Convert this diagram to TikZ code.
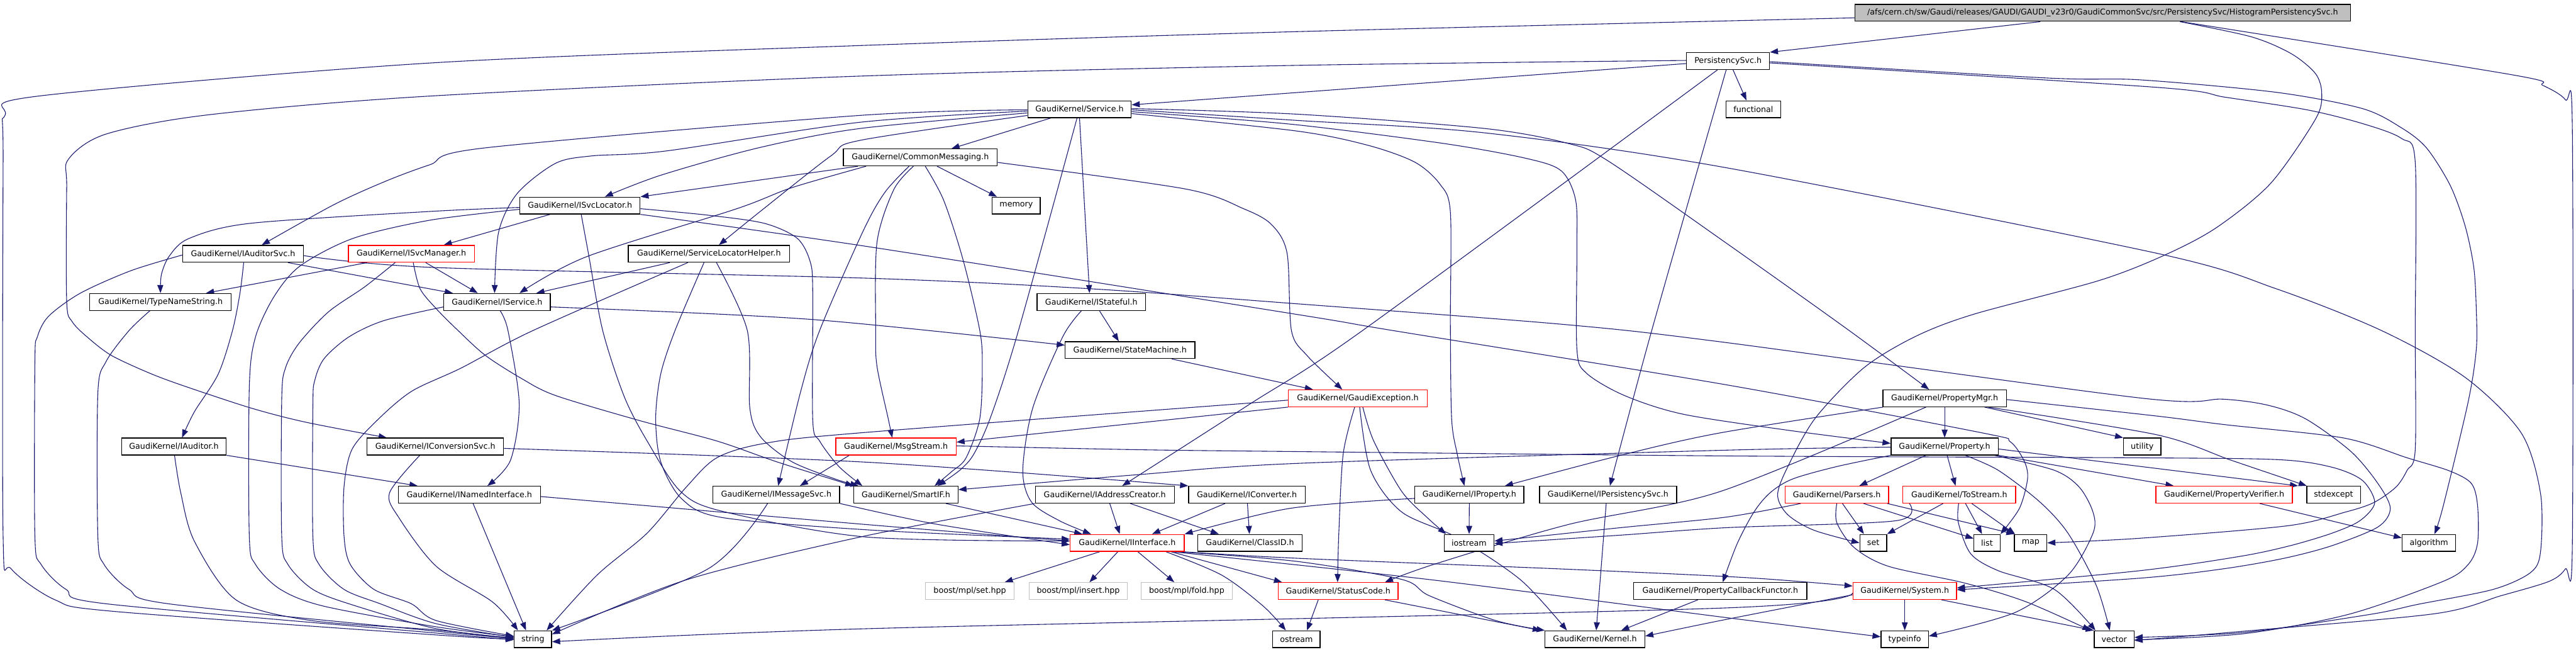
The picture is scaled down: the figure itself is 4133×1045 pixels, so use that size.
\documentclass[tikz,border=0pt]{standalone}
\usepackage{fontspec}
\setmainfont{DejaVu Sans}
\usetikzlibrary{arrows.meta}
\definecolor{edgec}{RGB}{25,25,112}
\definecolor{boxgray}{RGB}{191,191,191}
\pgfdeclarelayer{bg}
\pgfsetlayers{bg,main}
\begin{document}
\begin{tikzpicture}[x=1pt,y=-1pt,
  nb/.style={draw=black, line width=1.3pt, fill=white, rectangle, minimum height=27pt, inner xsep=2pt, inner ysep=0pt, font=\fontsize{12.8}{15}\selectfont, text=black},
  nbred/.style={nb, draw=red},
  nbgray/.style={nb, draw=boxgray},
  edg/.style={draw=edgec, line width=1.1pt, line join=round, -{Triangle[length=13pt,width=9.5pt]}},
  sp/.style={smooth, tension=0.5}]
\useasboundingbox (0,0) rectangle (4133,1045);
% ---------------- nodes
\node[nb, fill=boxgray, minimum width=795pt] (main) at (3373.5,20.6) {/afs/cern.ch/sw/Gaudi/releases/GAUDI/GAUDI\_v23r0/GaudiCommonSvc/src/PersistencySvc/HistogramPersistencySvc.h};
\node[nb, minimum width=133pt] (psvc) at (2772.5,97.9) {PersistencySvc.h};
\node[nb, minimum width=166pt] (svc) at (1732,175.1) {GaudiKernel/Service.h};
\node[nb, minimum width=88pt] (func) at (2813,175.1) {functional};
\node[nb, minimum width=247pt] (cmsg) at (1476.5,252.4) {GaudiKernel/CommonMessaging.h};
\node[nb, minimum width=77pt] (mem) at (1630.5,329.6) {memory};
\node[nb, minimum width=193pt] (isvcloc) at (930.5,329.6) {GaudiKernel/ISvcLocator.h};
\node[nb, minimum width=194pt] (iaudsvc) at (390,406.9) {GaudiKernel/IAuditorSvc.h};
\node[nbred, minimum width=202pt] (isvcmgr) at (660,406.9) {GaudiKernel/ISvcManager.h};
\node[nb, minimum width=259pt] (slh) at (1137.5,406.9) {GaudiKernel/ServiceLocatorHelper.h};
\node[nb, minimum width=227pt] (tns) at (257.5,484.1) {GaudiKernel/TypeNameString.h};
\node[nb, minimum width=171pt] (iservice) at (797.5,484.1) {GaudiKernel/IService.h};
\node[nb, minimum width=174pt] (istateful) at (1751,484.1) {GaudiKernel/IStateful.h};
\node[nb, minimum width=208pt] (smach) at (1813,561.4) {GaudiKernel/StateMachine.h};
\node[nbred, minimum width=223pt] (gexc) at (2178.5,638.6) {GaudiKernel/GaudiException.h};
\node[nb, minimum width=198pt] (pmgr) at (3120,638.6) {GaudiKernel/PropertyMgr.h};
\node[nb, minimum width=168pt] (iaud) at (279,715.9) {GaudiKernel/IAuditor.h};
\node[nb, minimum width=219pt] (iconvsvc) at (698.5,715.9) {GaudiKernel/IConversionSvc.h};
\node[nbred, minimum width=193pt] (msgs) at (1437.5,715.9) {GaudiKernel/MsgStream.h};
\node[nb, minimum width=172pt] (prop) at (3120,715.9) {GaudiKernel/Property.h};
\node[nb, minimum width=60pt] (util) at (3437,715.9) {utility};
\node[nb, minimum width=228pt] (inamed) at (753,793.1) {GaudiKernel/INamedInterface.h};
\node[nb, minimum width=203pt] (imsg) at (1245.5,793.1) {GaudiKernel/IMessageSvc.h};
\node[nb, minimum width=167pt] (smartif) at (1453.5,793.1) {GaudiKernel/SmartIF.h};
\node[nb, minimum width=223pt] (iaddr) at (1772.5,793.1) {GaudiKernel/IAddressCreator.h};
\node[nb, minimum width=187pt] (iconv) at (2000.5,793.1) {GaudiKernel/IConverter.h};
\node[nb, minimum width=175pt] (iprop) at (2357.5,793.1) {GaudiKernel/IProperty.h};
\node[nb, minimum width=220pt] (ipers) at (2580,793.1) {GaudiKernel/IPersistencySvc.h};
\node[nbred, minimum width=166pt] (parsers) at (2947,793.1) {GaudiKernel/Parsers.h};
\node[nbred, minimum width=181pt] (tostream) at (3143.5,793.1) {GaudiKernel/ToStream.h};
\node[nbred, minimum width=219pt] (pverif) at (3568.5,793.1) {GaudiKernel/PropertyVerifier.h};
\node[nb, minimum width=86pt] (stdexc) at (3744,793.1) {stdexcept};
\node[nbred, minimum width=183pt] (iint) at (1808.5,870.4) {GaudiKernel/IInterface.h};
\node[nb, minimum width=167pt] (classid) at (2005.5,870.4) {GaudiKernel/ClassID.h};
\node[nb, minimum width=80pt] (iostream) at (2357,870.4) {iostream};
\node[nb, minimum width=43pt] (set) at (3005.5,870.4) {set};
\node[nb, minimum width=42pt] (list) at (3188,870.4) {list};
\node[nb, minimum width=52pt] (map) at (3258,870.4) {map};
\node[nb, minimum width=86pt] (algo) at (3897,870.4) {algorithm};
\node[nbgray, minimum width=142pt] (bset) at (1556,947.6) {boost/mpl/set.hpp};
\node[nbgray, minimum width=158pt] (binsert) at (1730,947.6) {boost/mpl/insert.hpp};
\node[nbgray, minimum width=146pt] (bfold) at (1904,947.6) {boost/mpl/fold.hpp};
\node[nbred, minimum width=192pt] (status) at (2147,947.6) {GaudiKernel/StatusCode.h};
\node[nb, minimum width=278pt] (pcf) at (2760,947.6) {GaudiKernel/PropertyCallbackFunctor.h};
\node[nbred, minimum width=166pt] (system) at (3056,947.6) {GaudiKernel/System.h};
\node[nb, minimum width=60pt] (string) at (855,1024.9) {string};
\node[nb, minimum width=76pt] (ostream) at (2080,1024.9) {ostream};
\node[nb, minimum width=160pt] (kernel) at (2559,1024.9) {GaudiKernel/Kernel.h};
\node[nb, minimum width=76pt] (typeinfo) at (3056,1024.9) {typeinfo};
\node[nb, minimum width=64pt] (vector) at (3392,1024.9) {vector};
% ---------------- edges
\begin{pgfonlayer}{bg}
\fill[white] (0,0) rectangle (4133,1045);
% main
\draw[edg] ([xshift=-100pt]main.south) -- (psvc.north east);
\draw[edg] plot[sp] coordinates {([yshift=-8pt]main.west) (2070,51) (1380,73) (690,101) (62,154) (8,185) (5,260) (5,860) (18,912) (89,962) (180,980) (700,1018) (string.west)};
\draw[edg] plot[sp] coordinates {([xshift=126pt]main.south) (4031,120) (4080,137) (4116,160) (4127,200) (4127,880) (4116,912) (4090,932) (4013,955) (3906,984) (3600,1012) ([yshift=-2pt]vector.east)};
\draw[edg] plot[sp] coordinates {([xshift=124pt]main.south) (3612,59) (3676,86) (3715,118) (3725,150) (3715,191) (3643,294) (3556,365) (3473,409) (3367,450) (3166,504) (3072,540) (2990,590) (2912,671) (2867,751) (2852,794) (2868,825) (2910,850) (set.west)};
% psvc
\draw[edg] ([yshift=-4pt]psvc.west) -- ([yshift=7pt]svc.east);
\draw[edg] plot[sp] coordinates {([yshift=1pt]psvc.west) (2070,105) (1380,122) (690,154) (335,184) (170,215) (110,255) (107,300) (107,483) (116,516) (143,543) (179,570) (237,597) (290,617) (402,654) (491,677) ([xshift=-78pt]iconvsvc.north)};
\draw[edg] plot[sp] coordinates {([xshift=-17pt]psvc.south) (2186,530) (2005,648) ([xshift=28pt]iaddr.north)};
\draw[edg] plot[sp] coordinates {([xshift=-3pt]psvc.south) (2650,530) ([xshift=3pt]ipers.north)};
\draw[edg] ([xshift=8pt]psvc.south) -- ([xshift=-11pt]func.north);
\draw[edg] plot[sp] coordinates {([yshift=-1pt]psvc.east) (3283,125) (3433,128) (3652,148) (3790,174) (3853,205) (3893,237) (3931,297) (3955,362) (3969,429) (3973,497) (3973,560) (3960,644) (3920,811) ([xshift=9pt]algo.north)};
\draw[edg] plot[sp] coordinates {([yshift=-3pt]psvc.east) (3460,140) (3571,156) (3701,176) (3790,198) (3853,222) (3875,260) (3875,530) (3875,721) (3862,754) (3844,781) (3808,806) (3763,821) (3670,843) (3433,863) (map.east)};
% svc
\draw[edg] ([xshift=-46pt]svc.south) -- ([xshift=50pt]cmsg.north);
\draw[edg] plot[sp] coordinates {([yshift=-1pt]svc.west) (1380,185) (779,237) (690,264) (620,290) (536,328) ([xshift=30pt]iaudsvc.north)};
\draw[edg] plot[sp] coordinates {([yshift=-3pt]svc.west) (1380,196) (1069,242) (949,250) (891,262) (830,310) (800,372) ([xshift=-4pt]iservice.north)};
\draw[edg] plot[sp] coordinates {([yshift=-6pt]svc.west) (1380,206) (1217,237) (1060,281) ([xshift=40pt]isvcloc.north)};
\draw[edg] plot[sp] coordinates {([yshift=-10pt]svc.west) (1380,225) (1333,250) (1221,338) ([xshift=16pt]slh.north)};
\draw[edg] (svc.south) -- ([xshift=-3pt]istateful.north);
\draw[edg] plot[sp] coordinates {([xshift=-4pt]svc.south) (1634,530) (1590,667) (1563,727) (1541,753) ([xshift=51pt]smartif.north)};
\draw[edg] plot[sp] coordinates {([yshift=1pt]svc.east) (2080,183) (2382,206) (2516,230) (2580,258) (2770,390) (2960,525) ([xshift=-25pt]pmgr.north)};
\draw[edg] plot[sp] coordinates {([yshift=-1pt]svc.east) (2080,193) (2382,213) (2770,269) (3460,406) (3652,463) (3821,530) (3955,605) (4045,694) (4076,791) (4076,885) (4060,918) (4000,945) (3879,969) (3803,985) (3600,1014) ([yshift=3pt]vector.east)};
\draw[edg] plot[sp] coordinates {([yshift=-4pt]svc.east) (2070,199) (2316,230) (2449,254) (2505,274) (2528,321) (2530,400) (2530,560) (2545,598) (2606,634) (2700,664) (2870,690) ([yshift=5pt]prop.west)};
\draw[edg] plot[sp] coordinates {([yshift=-7pt]svc.east) (2080,210) (2195,233) (2270,260) (2310,295) (2327,340) (2327,520) (2329,671) (2338,728) ([xshift=-8pt]iprop.north)};
% cmsg
\draw[edg] ([xshift=-100pt]cmsg.south) -- (isvcloc.north east);
\draw[edg] plot[sp] coordinates {([xshift=-87pt]cmsg.south) (1270,301) (1181,335) (940,412) ([xshift=36pt]iservice.north)};
\draw[edg] plot[sp] coordinates {([xshift=-18pt]cmsg.south) (1420,308) (1385,370) (1315,530) (1284,630) ([xshift=3pt]imsg.north)};
\draw[edg] plot[sp] coordinates {([xshift=-11pt]cmsg.south) (1434,304) (1407,389) (1405,530) (1407,587) (1425,671) ([xshift=-6pt]msgs.north)};
\draw[edg] plot[sp] coordinates {([xshift=8pt]cmsg.south) (1514,321) (1545,416) (1572,530) (1576,587) (1572,671) (1550,734) (1527,756) ([xshift=46pt]smartif.north)};
\draw[edg] ([xshift=27pt]cmsg.south) -- ([xshift=-31pt]mem.north);
\draw[edg] plot[sp] coordinates {([yshift=-8pt]cmsg.east) (1902,303) (1996,335) (2040,360) (2065,406) (2072,530) (2097,570) ([xshift=-25pt]gexc.north)};
% isvcloc
\draw[edg] ([xshift=-48pt]isvcloc.south) -- ([xshift=52pt]isvcmgr.north);
\draw[edg] plot[sp] coordinates {([yshift=-3pt]isvcloc.west) (690,339) (402,358) (304,382) (272,410) (259,440) (tns.north)};
\draw[edg] plot[sp] coordinates {([yshift=-6pt]isvcloc.west) (690,353) (567,382) (482,426) (440,475) (410,540) (400,620) (400,860) (410,905) (450,945) (520,972) (700,1005) ([yshift=4pt]string.west)};
\draw[edg] plot[sp] coordinates {([xshift=2pt]isvcloc.south) (944,406) (967,530) (1002,637) (1040,710) (1092,788) (1160,820) (1390,861) ([yshift=3pt]iint.west)};
\draw[edg] plot[sp] coordinates {(isvcloc.south east) (1390,395) (2080,504) (2235,530) (2770,617) (3180,694) (3225,708) (3248,740) (3253,768) (3240,815) (list.north east)};
\draw[edg] plot[sp] coordinates {([yshift=-5pt]isvcloc.east) (1136,345) (1226,358) (1279,382) (1300,420) (1304,470) (1304,674) (1315,707) (1346,748) ([xshift=-70pt]smartif.north)};
% iaudsvc
\draw[edg] plot[sp] coordinates {([xshift=1pt]iaudsvc.south) (385,470) (373,530) (350,600) (312,660) ([xshift=13pt]iaud.north)};
\draw[edg] ([xshift=72pt]iaudsvc.south) -- ([xshift=-71pt]iservice.north);
\draw[edg] plot[sp] coordinates {([yshift=-3pt]iaudsvc.east) (700,429) (1390,446) (1750,463) (2080,487) (2507,520) (2760,548) (3433,638) (3567,640) (3640,650) (3700,672) (3772,724) (3815,775) (3835,815) (3815,845) (3741,875) (3665,895) (3567,912) (3433,927) ([yshift=2pt]system.east)};
\draw[edg] plot[sp] coordinates {([yshift=-2pt]iaudsvc.west) (210,434) (129,470) (78,507) (60,540) (56,580) (56,860) (66,905) (106,945) (170,968) (700,1015) ([yshift=-1pt]string.west)};
% isvcmgr
\draw[edg] ([xshift=23pt]isvcmgr.south) -- ([xshift=-31pt]iservice.north);
\draw[edg] ([xshift=-71pt]isvcmgr.south) -- ([xshift=73pt]tns.north);
\draw[edg] plot[sp] coordinates {([xshift=-26pt]isvcmgr.south) (585,460) (527,500) (480,550) (458,590) (452,640) (452,860) (462,905) (502,945) (566,970) (700,1008) ([yshift=2pt]string.west)};
\draw[edg] plot[sp] coordinates {([xshift=3pt]isvcmgr.south) (674,463) (700,495) (735,530) (779,570) (837,607) (891,634) (1025,674) (1150,707) (1248,741) (smartif.north west)};
% slh
\draw[edg] ([xshift=-63pt]slh.south) -- ([xshift=63pt]iservice.north);
\draw[edg] plot[sp] coordinates {([xshift=-34pt]slh.south) (855,530) (740,590) (661,627) (607,672) (565,720) (552,780) (552,860) (562,905) (600,945) (660,968) (700,995) ([yshift=5pt]string.west)};
\draw[edg] plot[sp] coordinates {([xshift=-8pt]slh.south) (1083,530) (1060,600) (1052,671) (1060,740) (1094,800) (1160,830) (1400,850) ([yshift=6pt]iint.west)};
\draw[edg] plot[sp] coordinates {([xshift=12pt]slh.south) (1199,530) (1203,654) (1220,700) (1270,740) (1340,768) ([xshift=8pt]smartif.north west)};
% tns
\draw[edg] plot[sp] coordinates {([xshift=-17pt]tns.south) (207,530) (170,580) (157,630) (157,860) (167,905) (207,945) (270,968) (700,1012) ([yshift=1pt]string.west)};
% iservice
\draw[edg] plot[sp] coordinates {([yshift=-8pt]iservice.east) (1300,512) ([yshift=8pt]smach.west)};
\draw[edg] plot[sp] coordinates {([xshift=5pt]iservice.south) (815,530) (833,647) (819,738) ([xshift=29pt]inamed.north)};
\draw[edg] plot[sp] coordinates {([yshift=-8pt]iservice.west) (616,514) (560,540) (520,575) (505,610) (502,650) (502,860) (512,905) (552,945) (610,968) (700,1000) ([yshift=3pt]string.west)};
% istateful
\draw[edg] ([xshift=13pt]istateful.south) -- ([xshift=-18pt]smach.north);
\draw[edg] plot[sp] coordinates {([xshift=-16pt]istateful.south) (1705,540) (1657,654) (1641,754) (1655,805) (1700,835) ([xshift=-58pt]iint.north)};
% smach
\draw[edg] ([xshift=67pt]smach.south) -- ([xshift=-72pt]gexc.north);
% gexc
\draw[edg] (gexc.south west) -- ([yshift=7pt]msgs.east);
\draw[edg] plot[sp] coordinates {([yshift=-3pt]gexc.west) (1380,694) (1226,711) (1150,734) (1101,781) (1038,855) (958,922) ([xshift=22pt]string.north)};
\draw[edg] plot[sp] coordinates {([xshift=-5pt]gexc.south) (2155,728) (2148,855) ([xshift=-1pt]status.north)};
\draw[edg] plot[sp] coordinates {([xshift=8pt]gexc.south) (2204,707) (2249,788) (2290,830) ([xshift=-37pt]iostream.north)};
\draw[edg] plot[sp] coordinates {([xshift=3pt]gexc.south) (2199,754) (2249,821) (2338,862) (2440,930) ([xshift=-45pt]kernel.north)};
% pmgr
\draw[edg] (pmgr) -- (prop);
\draw[edg] ([xshift=64pt]pmgr.south) -- (util.north west);
\draw[edg] plot[sp] coordinates {([xshift=70pt]pmgr.south) (3460,697) (3580,738) ([xshift=-43pt]stdexc.north)};
\draw[edg] plot[sp] coordinates {([yshift=-2pt]pmgr.east) (3460,667) (3571,681) (3759,702) (3862,734) (3930,755) (3965,775) (3975,810) (3975,871) (3960,905) (3920,932) (3768,985) (3600,1016) ([yshift=-1pt]vector.east)};
\draw[edg] plot[sp] coordinates {([xshift=-99pt]pmgr.south) (2760,694) (2600,730) ([xshift=57pt]iprop.north)};
\draw[edg] plot[sp] coordinates {([xshift=-30pt]pmgr.south) (2760,788) (2516,841) (2300,905) ([xshift=75pt]status.north)};
% prop
\draw[edg] (prop.south east) -- ([xshift=-81pt]pverif.north);
\draw[edg] ([yshift=-4pt]prop.east) -- ([xshift=-57pt]stdexc.north);
\draw[edg] ([xshift=-30pt]prop.south) -- ([xshift=36pt]parsers.north);
\draw[edg] ([xshift=4pt]prop.south) -- ([xshift=-6pt]tostream.north);
\draw[edg] plot[sp] coordinates {([xshift=33pt]prop.south) (3206,754) (3273,805) (3318,855) (3363,938) ([xshift=-7pt]vector.north)};
\draw[edg] plot[sp] coordinates {([xshift=80pt]prop.south) (3296,754) (3336,781) (3358,821) (3358,855) (3318,922) (3233,982) ([yshift=5pt]typeinfo.east)};
\draw[edg] plot[sp] coordinates {(prop.south west) (2947,748) (2876,768) (2840,790) (2814,821) (2787,872) ([xshift=4pt]pcf.north)};
\draw[edg] plot[sp] coordinates {([yshift=-1pt]prop.west) (2760,722) (2080,743) (1826,761) ([yshift=8pt]smartif.east)};
% parsers / tostream
\draw[edg] ([xshift=9pt]parsers.south) -- ([xshift=-15pt]set.north);
\draw[edg] ([xshift=43pt]parsers.south) -- ([yshift=7pt]list.west);
\draw[edg] ([xshift=81pt]parsers.south) -- ([xshift=-26pt]map.north);
\draw[edg] plot[sp] coordinates {(parsers.south) (2947,838) (2975,878) (3030,908) (3153,935) (3251,965) ([xshift=-38pt]vector.north)};
\draw[edg] plot[sp] coordinates {([xshift=-58pt]parsers.south) (2770,829) (2600,846) ([yshift=3pt]iostream.east)};
\draw[edg] plot[sp] coordinates {([xshift=-80pt]tostream.south) (3041,835) (2770,846) (2600,858) ([yshift=-1pt]iostream.east)};
\draw[edg] ([xshift=-26pt]tostream.south) -- (set.north east);
\draw[edg] ([xshift=10pt]tostream.south) -- ([xshift=-8pt]list.north);
\draw[edg] ([xshift=20pt]tostream.south) -- ([xshift=-25pt]map.north);
\draw[edg] plot[sp] coordinates {([xshift=-1pt]tostream.south) (3142,838) (3162,888) (3206,915) (3296,945) ([xshift=-30pt]vector.north)};
% system
\draw[edg] (system) -- (typeinfo);
\draw[edg] plot[sp] coordinates {([yshift=-6pt]system.west) (2760,995) ([yshift=5pt]kernel.east)};
\draw[edg] ([xshift=59pt]system.south) -- (vector.north west);
\draw[edg] plot[sp] coordinates {([yshift=-3pt]system.west) (2760,975) (1390,1008) ([yshift=-4pt]string.east)};
% iint
\draw[edg] ([xshift=-44pt]iint.south) -- ([xshift=56pt]bset.north);
\draw[edg] ([xshift=-15pt]iint.south) -- ([xshift=18pt]binsert.north);
\draw[edg] ([xshift=17pt]iint.south) -- ([xshift=-20pt]bfold.north);
\draw[edg] plot[sp] coordinates {([xshift=62pt]iint.south) (1960,922) (2027,972) ([xshift=-17pt]ostream.north)};
\draw[edg] ([xshift=70pt]iint.south) -- ([xshift=-90pt]status.north);
\draw[edg] plot[sp] coordinates {([xshift=-12pt]iint.south east) (2080,900) (2249,929) (2293,955) (2400,995) (kernel.north west)};
\draw[edg] plot[sp] coordinates {([xshift=-4pt]iint.south east) (2080,895) (2500,912) (2800,926) ([yshift=8pt]system.west)};
\draw[edg] plot[sp] coordinates {([xshift=-20pt]iint.south east) (2300,930) (2760,989) ([yshift=4pt]typeinfo.west)};
% misc
\draw[edg] ([xshift=64pt]smartif.south) -- ([xshift=-72pt]iint.north);
\draw[edg] plot[sp] coordinates {([yshift=-3pt]inamed.east) (1390,841) ([yshift=3pt]iint.west)};
\draw[edg] ([xshift=6pt]inamed.south) -- ([xshift=-11pt]string.north);
\draw[edg] plot[sp] coordinates {(imsg.south east) (1500,840) ([yshift=-3pt]iint.west)};
\draw[edg] plot[sp] coordinates {([xshift=-14pt]imsg.south) (1136,912) (string.north east)};
\draw[edg] ([xshift=8pt]iaddr.south) -- ([xshift=-12pt]iint.north);
\draw[edg] ([xshift=41pt]iaddr.south) -- ([xshift=-50pt]classid.north);
\draw[edg] plot[sp] coordinates {(iaddr.south west) (1380,861) (1100,930) ([yshift=8pt]string.east)};
\draw[edg] ([xshift=-35pt]iconv.south) -- ([xshift=40pt]iint.north);
\draw[edg] (iconv) -- (classid);
\draw[edg] (iprop) -- (iostream);
\draw[edg] plot[sp] coordinates {([yshift=-6pt]iprop.west) (2070,815) (iint.north east)};
\draw[edg] ([xshift=-3pt]ipers.south) -- ([xshift=2pt]kernel.north);
\draw[edg] ([xshift=-32pt]status.south) -- ([xshift=17pt]ostream.north);
\draw[edg] ([xshift=75pt]status.south) -- ([xshift=-87pt]kernel.north);
\draw[edg] ([xshift=-36pt]pcf.south) -- ([xshift=42pt]kernel.north);
\draw[edg] ([xshift=57pt]pverif.south) -- ([yshift=8pt]algo.west);
\draw[edg] (iaud.south east) -- ([xshift=-83pt]inamed.north);
\draw[edg] plot[sp] coordinates {([xshift=1pt]iaud.south) (290,790) (312,868) (379,962) (500,995) (700,1010) (string.west)};
\draw[edg] plot[sp] coordinates {([yshift=-3pt]iconvsvc.east) (1390,741) (iconv.north west)};
\draw[edg] plot[sp] coordinates {([xshift=-25pt]iconvsvc.south) (625,790) (640,830) (700,908) (790,965) ([xshift=-24pt]string.north)};
\draw[edg] ([xshift=-75pt]msgs.south) -- ([xshift=38pt]imsg.north);
\draw[edg] plot[sp] coordinates {([yshift=1pt]msgs.east) (1826,721) (2080,724) (2770,731) (3433,734) (3656,737) (3741,749) (3790,770) (3810,806) (3786,835) (3741,855) (3674,875) (3594,892) (3433,915) ([yshift=5pt]system.east)};
\end{pgfonlayer}
\end{tikzpicture}
\end{document}
